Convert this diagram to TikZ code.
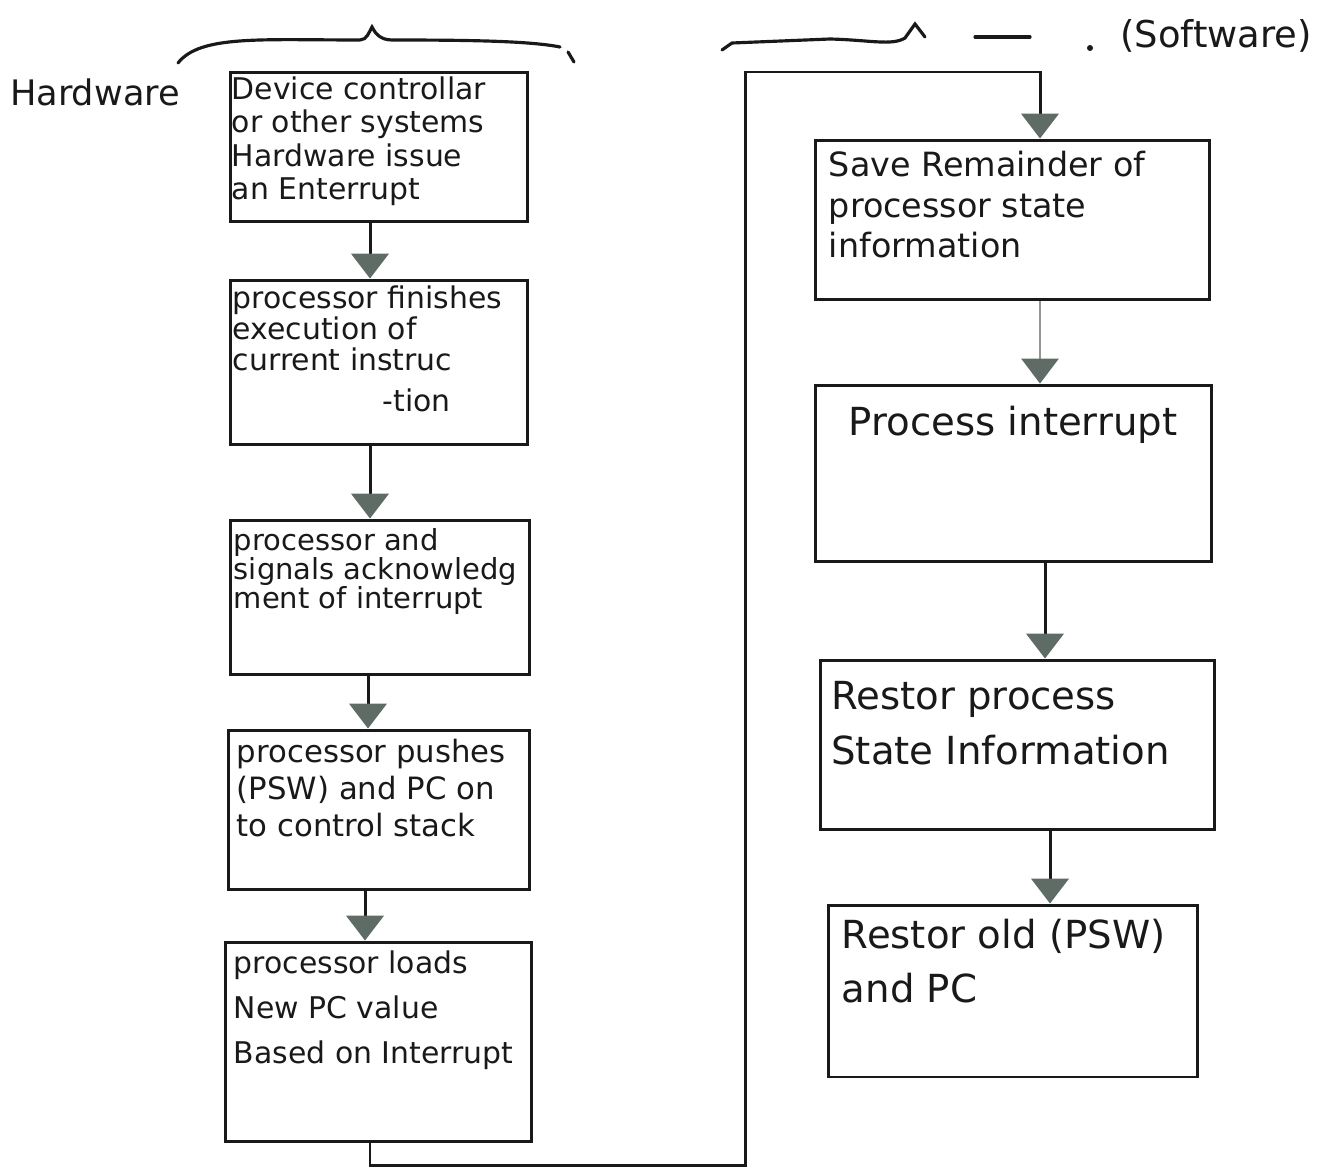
\documentclass[tikz,border=0pt]{standalone}
\usepackage{fontspec}
\setmainfont{DejaVu Sans}
\usetikzlibrary{arrows.meta}
\definecolor{ink}{RGB}{25,25,25}
\definecolor{headgray}{RGB}{95,108,102}
\definecolor{faint}{RGB}{150,150,150}
\tikzset{
  box/.style={draw=ink, line width=1.7pt, inner sep=0pt},
  txt/.style={anchor=north west, align=left, inner sep=0pt, text=ink, font=\fontsize{17}{19}\selectfont},
  arr/.style={draw=ink, line width=1.7pt, -{Triangle[width=0.75cm,length=0.5cm,color=headgray,fill=headgray]}},
  farr/.style={arr, draw=faint, line width=1pt},
  brace/.style={draw=ink, line width=1.8pt, line cap=round},
  lbl/.style={inner sep=0pt, text=ink, font=\fontsize{20}{24}\selectfont}
}
\begin{document}
\begin{tikzpicture}[x=0.02cm, y=-0.02cm]
\useasboundingbox (0,0) rectangle (1335,1169);
% labels and braces
\node[lbl] (hw) at (95,92) {Hardware};
\node[lbl, font=\fontsize{21}{24}\selectfont] (sw) at (1216,36) {(Software)};
\draw[brace] (178,63) .. controls (200,35) and (260,40) .. (360,40)
  .. controls (367,40) and (369,32) .. (372,27)
  .. controls (375,33) and (380,40) .. (392,40)
  .. controls (470,40) and (530,41) .. (560,47);
\draw[brace] (568,52) -- (574,62);
\draw[brace] (722,50) -- (732,43) -- (830,39) .. controls (870,40) and (892,46) .. (905,38) -- (915,24) -- (925,37);
\draw[brace] (975,37) -- (1030,37);
\fill[ink] (1090,48) circle (3);
% left column boxes
\node[box, minimum width=5.96cm, minimum height=3.0cm] (b1) at (379,147) {};
\node[txt] (t1) at ([shift={(0.06cm,-0.12cm)}]b1.north west) {Device controllar\\or other systems\\Hardware issue\\an Enterrupt};
\node[box, minimum width=5.96cm, minimum height=3.3cm] (b2) at (379,362.5) {};
\node[txt, font=\fontsize{17}{17.5}\selectfont] (t2) at ([shift={(0.08cm,-0.14cm)}]b2.north west) {processor finishes\\execution of\\current instruc\\[6pt]\hspace*{3cm}-tion};
\node[box, minimum width=6.0cm, minimum height=3.1cm] (b3) at (380,597.5) {};
\node[txt, font=\fontsize{16.5}{16.5}\selectfont] (t3) at ([shift={(0.1cm,-0.2cm)}]b3.north west) {processor and\\signals acknowledg\\ment of interrupt};
\node[box, minimum width=6.04cm, minimum height=3.2cm] (b4) at (379,810) {};
\node[txt, font=\fontsize{17.5}{21}\selectfont] (t4) at ([shift={(0.2cm,-0.2cm)}]b4.north west) {processor pushes\\(PSW) and PC on\\to control stack};
\node[box, minimum width=6.14cm, minimum height=4.0cm] (b5) at (378.5,1042) {};
\node[txt, font=\fontsize{17}{25.5}\selectfont] (t5) at ([shift={(0.2cm,-0.2cm)}]b5.north west) {processor loads\\New PC value\\Based on Interrupt};
% right column boxes
\node[box, minimum width=7.9cm, minimum height=3.2cm] (r1) at (1012.5,220) {};
\node[txt, font=\fontsize{19}{23}\selectfont] (u1) at ([shift={(0.3cm,-0.25cm)}]r1.north west) {Save Remainder of\\processor state\\information};
\node[box, minimum width=7.94cm, minimum height=3.54cm] (r2) at (1013.5,473.5) {};
\node[txt, font=\fontsize{22}{26}\selectfont] (u2) at ([shift={(0.7cm,-0.45cm)}]r2.north west) {Process interrupt};
\node[box, minimum width=7.9cm, minimum height=3.4cm] (r3) at (1017.5,745) {};
\node[txt, font=\fontsize{22}{31}\selectfont] (u3) at ([shift={(0.25cm,-0.45cm)}]r3.north west) {Restor process\\State Information};
\node[box, minimum width=7.4cm, minimum height=3.44cm] (r4) at (1013,991) {};
\node[txt, font=\fontsize{22}{31}\selectfont] (u4) at ([shift={(0.3cm,-0.3cm)}]r4.north west) {Restor old (PSW)\\and PC};
% left arrows
\draw[arr] ([xshift=-0.18cm]b1.south) -- ([xshift=-0.18cm]b1.south |- b2.north);
\draw[arr] ([xshift=-0.18cm]b2.south) -- ([xshift=-0.18cm]b2.south |- b3.north);
\draw[arr] ([xshift=-0.24cm]b3.south) -- ([xshift=-0.24cm]b3.south |- b4.north);
\draw[arr] ([xshift=-0.28cm]b4.south) -- ([xshift=-0.28cm]b4.south |- b5.north);
% loop to software side
\coordinate (lb) at (370,1165);
\coordinate (rb) at (745,1165);
\coordinate (rt) at (745,72);
\coordinate (tt) at (1040,72);
\draw[arr] (b5.south -| lb) -- (lb) -- (rb) -- (rt) -- (tt) -- (tt |- r1.north);
% right arrows
\draw[farr] ([xshift=0.55cm]r1.south) -- ([xshift=0.55cm]r1.south |- r2.north);
\draw[arr] ([xshift=0.63cm]r2.south) -- ([xshift=0.63cm]r2.south |- r3.north);
\draw[arr] ([xshift=0.65cm]r3.south) -- ([xshift=0.65cm]r3.south |- r4.north);
\end{tikzpicture}
\end{document}
